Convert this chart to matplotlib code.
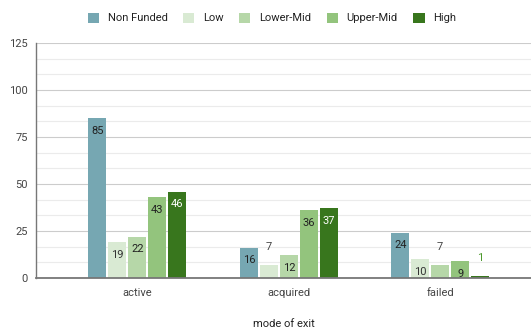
import numpy as np
import matplotlib.pyplot as plt
from matplotlib.ticker import MultipleLocator

plt.rcParams['font.family'] = ['Roboto', 'DejaVu Sans']

modes = ['active', 'acquired', 'failed']
series = ['Non Funded', 'Low', 'Lower-Mid', 'Upper-Mid', 'High']
non_funded = [85, 16, 24]
low = [19, 7, 10]
lower_mid = [22, 12, 7]
upper_mid = [43, 36, 9]
high = [46, 37, 1]

colors = ['#76a7b2', '#d9ead3', '#b6d7a8', '#93c47d', '#38761d']
inside_text = ['#222222', '#333333', '#222222', '#222222', '#ffffff']
outside_text = ['#444444', '#444444', '#444444', '#444444', '#4e9a2e']

fig = plt.figure(figsize=(5.31, 3.31), dpi=100)
ax = fig.add_axes([36 / 531, 1 - 278 / 331, 1 - 36 / 531, (278 - 43) / 331])

x = np.arange(len(modes))
step = 0.132
width = 0.119
values = [non_funded, low, lower_mid, upper_mid, high]

for k, (name, vals) in enumerate(zip(series, values)):
    pos = x + (k - 2) * step
    ax.bar(pos, vals, width, color=colors[k], label=name, zorder=3)
    for px, v in zip(pos, vals):
        if v >= 9:
            ax.annotate(str(v), (px, v), xytext=(0, -9), textcoords='offset points',
                        ha='center', va='center', fontsize=8, color=inside_text[k], zorder=4)
        else:
            ax.annotate(str(v), (px, v), xytext=(0, 13), textcoords='offset points',
                        ha='center', va='center', fontsize=8, color=outside_text[k], zorder=4)

ax.set_xlim(-0.67, 2.6)
ax.set_ylim(0, 125)
ax.yaxis.set_major_locator(MultipleLocator(25))
ax.yaxis.set_minor_locator(MultipleLocator(25 / 3))
ax.grid(axis='y', which='major', color='#cccccc', linewidth=0.8, zorder=0)
ax.grid(axis='y', which='minor', color='#ebebeb', linewidth=0.8, zorder=0)
ax.set_axisbelow(True)

ax.set_xticks(x)
ax.set_xticklabels(modes)
ax.tick_params(axis='both', which='both', length=0, labelsize=8, colors='#444444')
ax.tick_params(axis='x', pad=7)
ax.tick_params(axis='y', pad=6)

for side in ['top', 'right']:
    ax.spines[side].set_visible(False)
ax.spines['left'].set_color('#777777')
ax.spines['left'].set_linewidth(1.0)
ax.spines['bottom'].set_color('#777777')
ax.spines['bottom'].set_linewidth(1.3)
ax.spines['bottom'].set_zorder(5)

ax.set_xlabel('mode of exit', fontsize=8, color='#222222', labelpad=15)

fig.legend(loc='center', bbox_to_anchor=(272 / 531, 1 - 18 / 331), ncol=5, frameon=False,
           fontsize=8, handlelength=1.0, handleheight=1.0, handletextpad=0.8,
           columnspacing=1.4, labelcolor='#222222')

fig.savefig('out.png', dpi=100)
